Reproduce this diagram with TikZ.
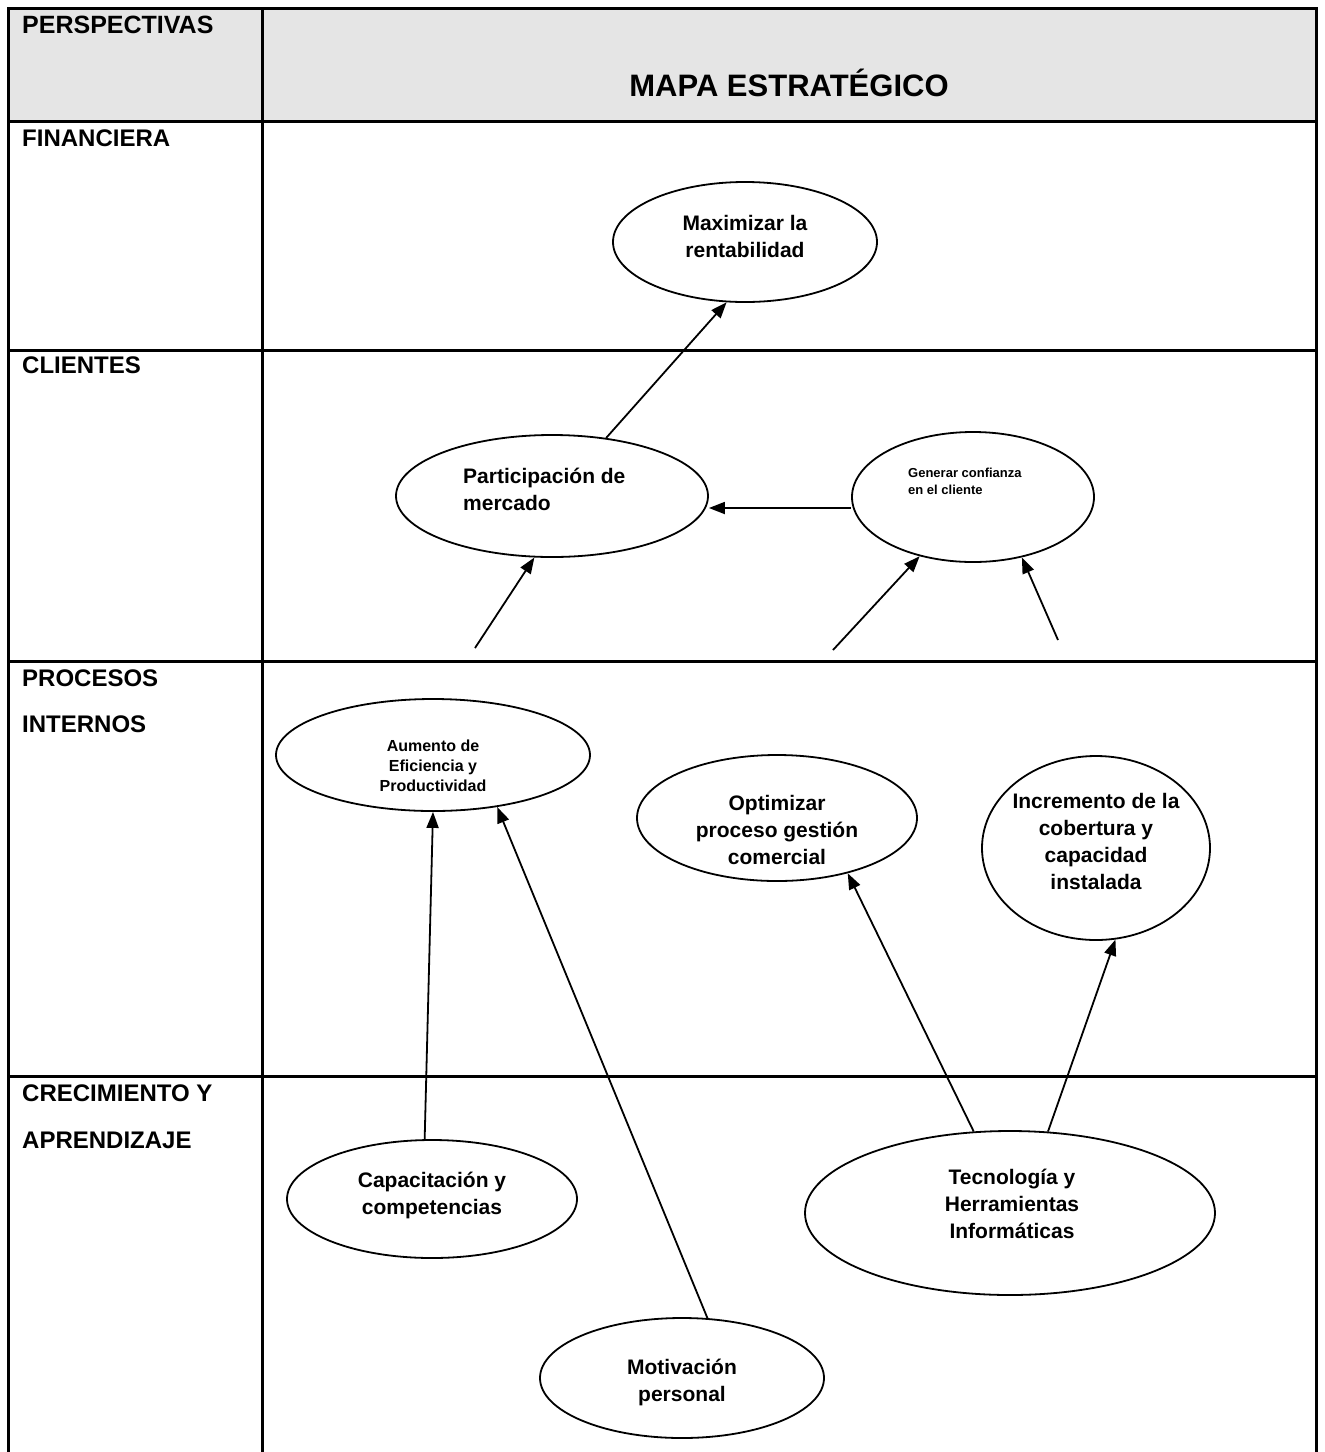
\documentclass[tikz,border=0pt]{standalone}
\usepackage{fontspec}
\setmainfont{Liberation Sans}[BoldFont={Liberation Sans Bold}]
\usetikzlibrary{shapes.geometric,arrows.meta}
\begin{document}
\begin{tikzpicture}[x=1pt,y=-1pt,
  grid/.style={line width=3pt},
  oval/.style={draw, ellipse, line width=1.8pt, inner sep=0pt},
  lbl/.style={anchor=base west, inner sep=0pt, font=\bfseries\fontsize{24}{24}\selectfont},
  txt/.style={align=center, inner sep=0pt, font=\bfseries\fontsize{21}{27}\selectfont},
  arr/.style={line width=1.8pt, -{Triangle[length=16pt,width=12pt]}},
]
\useasboundingbox (0,0) rectangle (1325,1452);
\fill[gray!20] (8,8) rectangle (1316,121);
% table
\draw[grid] (8,1452) -- (8,8) -- (1316,8) -- (1316,1452);
\draw[grid] (262,8) -- (262,1452);
\draw[grid] (8,121) -- (1316,121);
\draw[grid] (8,350) -- (1316,350);
\draw[grid] (8,661) -- (1316,661);
\draw[grid] (8,1076) -- (1316,1076);
% labels
\node[lbl, font=\bfseries\fontsize{25}{25}\selectfont] (hp) at (22,33) {PERSPECTIVAS};
\node[anchor=base, inner sep=0pt, font=\bfseries\fontsize{31}{31}\selectfont] (hm) at (789,96) {MAPA ESTRATÉGICO};
\node[lbl] (lf) at (22,146) {FINANCIERA};
\node[lbl] (lc) at (22,373) {CLIENTES};
\node[lbl] (lp1) at (22,686) {PROCESOS};
\node[lbl] (lp2) at (22,732) {INTERNOS};
\node[lbl] (lg1) at (22,1101) {CRECIMIENTO Y};
\node[lbl] (lg2) at (22,1148) {APRENDIZAJE};
% ellipses
\node[oval, minimum width=264, minimum height=120] (max) at (745,242) {};
\node[oval, minimum width=312, minimum height=122] (part) at (552,496) {};
\node[oval, minimum width=242, minimum height=130] (gen) at (973,497) {};
\node[oval, minimum width=314, minimum height=112] (aum) at (433,755) {};
\node[oval, minimum width=280, minimum height=126] (opt) at (777,818) {};
\node[oval, minimum width=228, minimum height=184] (inc) at (1096,848) {};
\node[oval, minimum width=290, minimum height=118] (cap) at (432,1199) {};
\node[oval, minimum width=284, minimum height=120] (mot) at (682,1378) {};
\node[oval, minimum width=410, minimum height=164] (tec) at (1010,1213) {};
% texts
\node[txt] (maxT) at (745,236) {Maximizar la\\rentabilidad};
\node[txt, align=left, anchor=west] (partT) at (463,489) {Participación de\\mercado};
\node[txt, align=left, anchor=west, font=\bfseries\fontsize{13}{17}\selectfont] (genT) at (908,481) {Generar confianza\\en el cliente};
\node[txt, font=\bfseries\fontsize{16}{20}\selectfont] (aumT) at (433,766) {Aumento de\\Eficiencia y\\Productividad};
\node[txt] (optT) at (777,830) {Optimizar\\proceso gestión\\comercial};
\node[txt] (incT) at (1096,841) {Incremento de la\\cobertura y\\capacidad\\instalada};
\node[txt] (capT) at (432,1195) {Capacitación y\\competencias};
\node[txt] (motT) at (682,1382) {Motivación\\personal};
\node[txt] (tecT) at (1012,1204) {Tecnología y\\Herramientas\\Informáticas};
% free ends
\coordinate (c1) at (475,648);
\coordinate (c2) at (833,650);
\coordinate (c3) at (1058,640);
% connectors
\draw[arr] (part.47) -- (max.253);
\draw[arr] ([yshift=-11pt]gen.west) -- ([yshift=-12pt]part.east);
\draw[arr] (c1) -- (part.254);
\draw[arr] (c2) -- (gen.228);
\draw[arr] (c3) -- (gen.309);
\draw[arr] (cap.97) -- (aum.south);
\draw[arr] (mot.67) -- (aum.-39);
\draw[arr] (tec.114) -- (opt.-38);
\draw[arr] (tec.65) -- (inc.-78);
\end{tikzpicture}
\end{document}
